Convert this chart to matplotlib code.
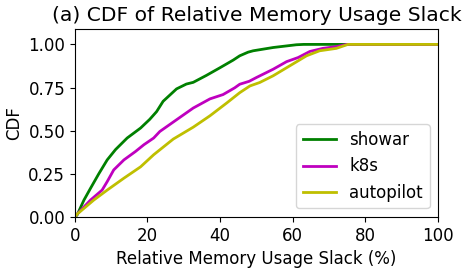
import matplotlib
matplotlib.use('Agg')
import matplotlib.pyplot as plt

showar_x = [0, 0.6, 2.5, 4.3, 6.6, 8.9, 11.2, 14.4, 18.1, 20.6, 22.5, 24.3, 28, 30.7, 32.6,
            36.2, 39.9, 43.6, 45.4, 47.7, 49.1, 54.6, 61, 63, 100]
showar_y = [0, 0.01, 0.097, 0.165, 0.25, 0.33, 0.39, 0.457, 0.515, 0.565, 0.61, 0.67, 0.742, 0.77, 0.78,
            0.82, 0.864, 0.909, 0.934, 0.955, 0.963, 0.982, 0.998, 1.0, 1.0]

k8s_x = [0, 0.6, 4.3, 7.5, 8.9, 10.7, 13.5, 16.7, 19, 21.7, 23.4, 28, 32.6, 37.2, 40.8, 44,
         45.4, 48, 50, 54.6, 58.3, 61.5, 64.7, 68.3, 72, 74.8, 100]
k8s_y = [0, 0.015, 0.097, 0.155, 0.204, 0.272, 0.33, 0.379, 0.418, 0.457, 0.495, 0.563, 0.631, 0.684, 0.709, 0.748,
         0.769, 0.786, 0.808, 0.856, 0.9, 0.924, 0.959, 0.977, 0.987, 1.0, 1.0]

autopilot_x = [0, 0.6, 5.2, 8.9, 13.5, 18.1, 21.7, 27.1, 32.6, 37.2, 41.8, 45.4, 48.2, 50.9,
               54.6, 59.2, 63.8, 67.4, 72, 75.2, 100]
autopilot_y = [0, 0.015, 0.097, 0.155, 0.224, 0.29, 0.36, 0.451, 0.52, 0.586, 0.66, 0.72, 0.759, 0.779,
               0.818, 0.876, 0.934, 0.963, 0.977, 1.0, 1.0]

fig = plt.figure(figsize=(4.65, 2.7), dpi=100)
ax = fig.add_subplot(111)
fig.subplots_adjust(left=0.161, right=0.942, top=0.893, bottom=0.197)

ax.plot(showar_x, showar_y, color='g', lw=2, label='showar')
ax.plot(k8s_x, k8s_y, color='m', lw=2, label='k8s')
ax.plot(autopilot_x, autopilot_y, color='y', lw=2, label='autopilot')

ax.set_xlim(0, 100)
ax.set_ylim(0, 1.09)
ax.set_yticks([0, 0.25, 0.5, 0.75, 1.0])
ax.set_yticklabels(['0.00', '0.25', '0.50', '0.75', '1.00'])
ax.tick_params(labelsize=12)
ax.set_xlabel('Relative Memory Usage Slack (%)', fontsize=12)
ax.set_ylabel('CDF', fontsize=12)
ax.set_title('(a) CDF of Relative Memory Usage Slack', fontsize=14.6)
ax.legend(loc='lower right', fontsize=12)

fig.savefig('out.png', dpi=100)
